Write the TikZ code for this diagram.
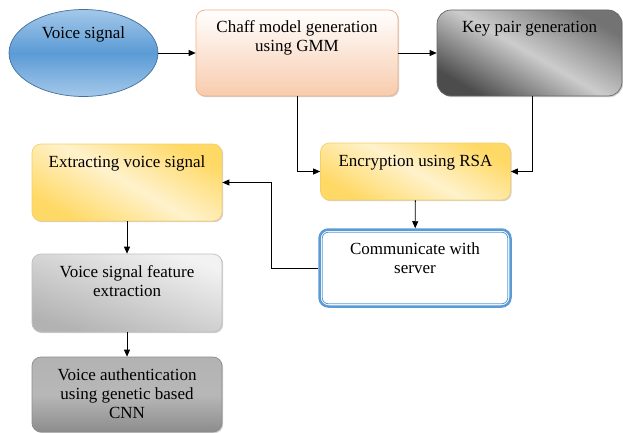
\documentclass[tikz,border=0pt]{standalone}
\usepackage{fontspec}
\setmainfont{Liberation Serif}
\usetikzlibrary{arrows.meta,shapes.geometric,shadows}
\definecolor{blueL}{HTML}{A4C8EA}
\definecolor{blueM}{HTML}{5B9BD5}
\definecolor{blueD}{HTML}{41719C}
\definecolor{peachL}{HTML}{F8CBAD}
\definecolor{peachD}{HTML}{F4B183}
\definecolor{yelD}{HTML}{FFD966}
\definecolor{yelL}{HTML}{FFF2CC}
\definecolor{yelB}{HTML}{F5CF6A}
% text placed near the top of each box
\newcommand{\intext}[4][23pt]{\parbox[c][#3][t]{#2}{\centering\rule{0pt}{#1}#4}}

\begin{document}
\begin{tikzpicture}[x=1pt, y=-1pt,
  arr/.style={-{Triangle[length=7pt,width=6pt]}, line width=0.8pt},
  txt/.style={inner sep=0pt, font=\fontsize{17}{19}\selectfont},
  shad/.style={drop shadow={shadow xshift=1.2pt, shadow yshift=-1.2pt, opacity=0.3, fill=black!60}},
  box/.style={txt, shad, draw, rounded corners=9pt, line width=0.7pt},
  ellip/.style={txt, draw=blueD, ellipse, line width=0.7pt, minimum width=149pt, minimum height=87pt,
    top color=blueL, bottom color=blueL, middle color=blueM},
  peach/.style={draw=peachD, top color=white, bottom color=peachL},
  keygray/.style={draw=black!60, top color=black!55, bottom color=black!70, middle color=black!20, shading angle=-30},
  yel/.style={draw=yelB, top color=yelD, bottom color=yelD, middle color=yelL, shading angle=-30},
  lgray/.style={draw=black!25, left color=black!5, right color=black!30, shading angle=-20},
  dgray/.style={draw=black!45, top color=black!30, bottom color=black!45, middle color=black!28},
  commbox/.style={txt, draw=blueM, fill=white, rounded corners=9pt, line width=2.5pt}]
  \useasboundingbox (0,0) rectangle (623,433);

  \node [ellip] (vs) at (83.5,53) {\intext[16pt]{100pt}{60pt}{Voice signal}};
  \node [box, peach] (chaff) at (297,53) {\intext{202pt}{86pt}{Chaff model generation\\ using GMM}};
  \node [box, keygray, rounded corners=14pt] (key) at (529.5,53) {\intext{185pt}{86pt}{Key pair generation}};
  \node [box, yel] (enc) at (415.5,171.5) {\intext{190pt}{57pt}{Encryption using RSA}};
  \node [commbox] (comm) at (415,268) {\intext[25pt]{191pt}{77pt}{Communicate with\\ server}};
  \draw [blueM, line width=0.8pt, rounded corners=6pt] ([shift={(4,4)}]comm.north west) rectangle ([shift={(-4,-4)}]comm.south east);
  \node [box, yel] (ext) at (127,182.5) {\intext{190pt}{77pt}{Extracting voice signal}};
  \node [box, lgray] (feat) at (127,293) {\intext{190pt}{78pt}{Voice signal feature\\ extraction}};
  \node [box, dgray] (auth) at (127,394.5) {\intext{190pt}{75pt}{Voice authentication\\ using genetic based\\ CNN}};

  \draw [arr] (vs) -- (chaff);
  \draw [arr] (chaff) -- (key);
  \draw [arr] (chaff.south) |- (enc.west);
  \draw [arr] ([xshift=2.5pt]key.south) |- (enc.east);
  \draw [arr] (enc) -- (comm);
  \draw [arr] (comm.west) -- ++(-47,0) |- (ext.east);
  \draw [arr] (ext) -- (feat);
  \draw [arr] (feat) -- (auth);
\end{tikzpicture}
\end{document}
